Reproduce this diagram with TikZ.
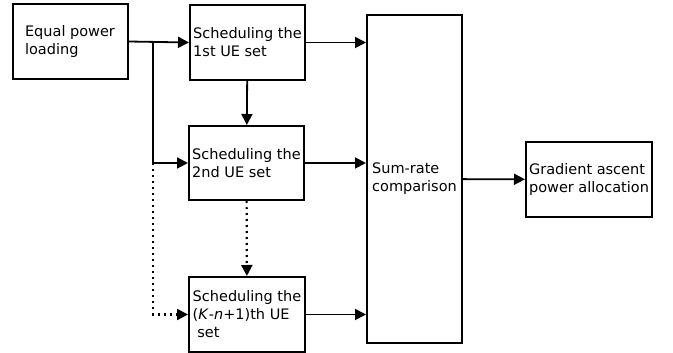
\documentclass[tikz,border=0pt]{standalone}
\usepackage{fontspec}
\setmainfont{DejaVu Sans}
\usetikzlibrary{arrows.meta}

\begin{document}
\begin{tikzpicture}[x=1pt,y=-1pt,
  every node/.style={draw,line width=2pt,align=left,inner sep=2pt,font=\fontsize{14.5}{18}\selectfont,minimum width=115pt,minimum height=75pt},
  arr/.style={line width=1.8pt,-{Triangle[length=11pt,width=11pt]}},
  dotarr/.style={arr,dash pattern=on 2pt off 4pt,line width=2.2pt}]
\useasboundingbox (0,0) rectangle (673,353);
\node (eq) at (70,41.5) {Equal power\\loading};
\node (s1) at (247.5,42.5) {Scheduling the\\1st UE set};
\node (s2) at (246.5,163) [minimum height=74pt] {Scheduling the\\2nd UE set};
\node (s3) at (247,314.5) [minimum width=116pt] {Scheduling the\\(\textit{K}-\textit{n}+1)th UE\\\ set};
\node (sr) at (414.5,179) [minimum width=95pt,minimum height=328pt] {Sum-rate\\comparison};
\node (ga) at (589,179.5) [minimum width=126pt] {Gradient ascent\\power allocation};
\coordinate (br) at (153,42);
\draw[arr] (eq.east)--(s1.west);
\draw[arr] (br)|-(s2.west);
\draw[dotarr] (br|-s2.west)|-(s3.west);
\draw[arr] (s1)--(s2);\draw[dotarr] (s2)--(s3);
\draw[arr] (s1.east)--(s1.east-|sr.west);
\draw[arr] (s2.east)--(s2.east-|sr.west);
\draw[arr] (s3.east)--(s3.east-|sr.west);
\draw[arr] (sr)--(ga);
\end{tikzpicture}
\end{document}
